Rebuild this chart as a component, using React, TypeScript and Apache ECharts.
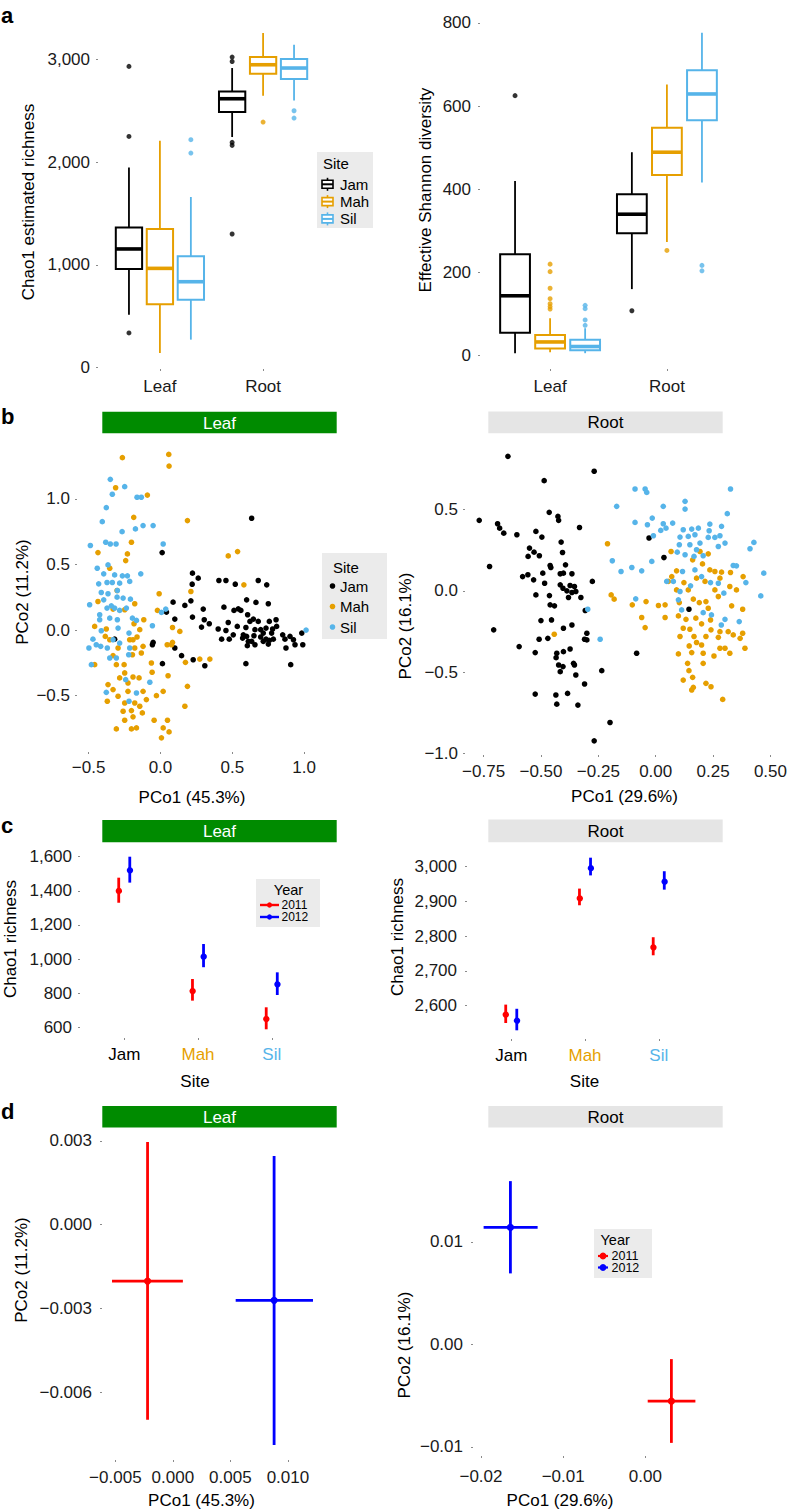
import React, { useEffect, useRef } from 'react';
import * as echarts from 'echarts';

const FONT = '"Liberation Sans", Arial, Helvetica, sans-serif';

// ---------- Panel a : box plots ----------
const SITES = ['Jam', 'Mah', 'Sil'];
const TISSUES = ['Leaf', 'Root'];
// [min, q1, median, q3, max] for Leaf, Root
const chaoJam = [[516, 961, 1156, 1366, 1950], [2246, 2490, 2619, 2690, 2918]];
const chaoMah = [[143, 617, 967, 1350, 2210], [2648, 2863, 2950, 3025, 3259]];
const chaoSil = [[273, 662, 837, 1084, 1662], [2603, 2811, 2918, 3006, 3145]];
const chaoOutJam = [[2934, 2252, 338], [3025, 2982, 2194, 2165, 1302]];
const chaoOutMah = [[], [2392]];
const chaoOutSil = [[2220, 2090], [2502, 2431]];
const chaoTicks = [0, 1000, 2000, 3000];

const shanJam = [[6, 55, 144, 244, 420], [160, 294, 340, 388, 489]];
const shanMah = [[8, 17, 33, 50, 90], [273, 434, 489, 548, 652]];
const shanSil = [[6, 13, 22, 38, 66], [416, 566, 629, 686, 776]];
const shanOutJam = [[625], [108]];
const shanOutMah = [[220, 202, 162, 137, 125, 118, 112], [253]];
const shanOutSil = [[121, 113, 86, 73], [217, 204]];
const shanTicks = [0, 200, 400, 600, 800];

// ---------- Panel b : PCoA scatter ----------
const leafJam = [[0.635,0.853],[0.012,0.591],[0.223,0.434],[0.263,0.396],[0.221,0.350],[0.407,0.378],[0.456,0.378],[0.521,0.350],[0.681,0.378],[0.740,0.345],[0.088,0.213],[0.170,0.188],[0.212,0.223],[0.298,0.160],[0.442,0.175],[0.512,0.150],[0.542,0.162],[0.560,0.150],[0.600,0.231],[0.665,0.211],[0.751,0.201],[0.042,0.137],[0.100,0.084],[0.223,0.099],[0.286,0.023],[0.340,0.048],[0.402,0.008],[0.456,-0.003],[0.479,-0.069],[0.426,-0.069],[0.535,0.028],[0.595,0.020],[0.607,0.117],[0.623,0.066],[0.647,0.084],[0.658,0.003],[0.681,0.066],[0.698,0.003],[0.716,-0.023],[0.735,0.015],[0.758,0.066],[0.781,0.008],[0.805,0.079],[0.809,0.028],[0.774,-0.023],[0.786,-0.069],[0.735,-0.069],[0.751,-0.107],[0.716,-0.086],[0.651,-0.043],[0.600,-0.048],[0.577,-0.036],[0.612,-0.086],[0.658,-0.112],[0.605,-0.119],[0.758,-0.079],[0.851,-0.036],[0.867,-0.069],[0.902,-0.048],[0.926,-0.074],[0.937,-0.112],[0.984,-0.023],[0.874,-0.137],[0.991,-0.112],[0.907,-0.264],[0.595,-0.256],[0.309,-0.272],[0.228,-0.226],[0.147,-0.195],[0.100,-0.137],[0.014,-0.256],[-0.051,-0.094],[-0.056,-0.112],[-0.319,-0.069],[0.305,0.079],[0.472,0.058],[0.507,-0.036],[0.572,-0.061],[0.698,-0.053],[0.635,-0.086]];
const leafMah = [[-0.265,1.315],[0.058,1.340],[0.060,1.251],[-0.312,1.086],[-0.091,1.030],[-0.186,0.860],[0.188,0.835],[-0.202,0.670],[-0.435,0.591],[-0.230,0.581],[-0.242,0.530],[0.472,0.566],[0.537,0.599],[0.581,0.345],[0.212,0.294],[-0.009,0.277],[-0.302,0.302],[-0.353,0.472],[-0.435,0.218],[-0.330,0.160],[-0.179,0.201],[-0.021,0.150],[-0.116,0.079],[-0.184,0.048],[-0.458,0.028],[-0.377,0.008],[0.084,0.020],[0.135,-0.010],[0.084,-0.094],[0.077,-0.112],[0.047,-0.112],[0.174,-0.246],[0.274,-0.221],[0.344,-0.221],[-0.384,-0.048],[-0.295,-0.137],[-0.214,-0.074],[-0.163,-0.053],[-0.121,-0.124],[-0.195,-0.188],[-0.330,-0.195],[-0.458,-0.264],[-0.307,-0.264],[-0.249,-0.327],[-0.191,-0.358],[-0.149,-0.365],[-0.226,-0.404],[-0.365,-0.416],[-0.330,-0.454],[-0.295,-0.505],[-0.370,-0.543],[-0.249,-0.556],[-0.179,-0.556],[-0.144,-0.581],[-0.126,-0.632],[-0.202,-0.614],[-0.260,-0.619],[-0.191,-0.662],[-0.249,-0.688],[-0.167,-0.746],[-0.202,-0.754],[-0.307,-0.754],[-0.044,-0.688],[0.049,-0.688],[0.019,-0.746],[0.060,-0.777],[0.007,-0.822],[-0.028,-0.500],[0.019,-0.467],[-0.058,-0.322],[0.053,-0.348],[0.188,-0.429],[0.170,-0.581],[-0.063,-0.251],[-0.284,-0.365],[-0.121,-0.467],[-0.098,-0.530],[-0.133,-0.175],[-0.179,-0.137],[-0.353,-0.074],[-0.253,-0.264],[-0.226,-0.467],[-0.191,-0.074],[-0.249,0.155],[-0.144,0.003]];
const leafSil = [[-0.349,1.150],[-0.249,1.094],[-0.335,1.036],[-0.163,1.013],[-0.133,1.013],[-0.377,0.934],[-0.405,0.827],[-0.267,0.751],[-0.174,0.772],[-0.121,0.797],[-0.051,0.797],[-0.488,0.645],[-0.381,0.670],[-0.349,0.657],[-0.309,0.657],[0.019,0.657],[-0.440,0.472],[-0.365,0.497],[-0.395,0.429],[-0.319,0.421],[-0.265,0.414],[-0.230,0.414],[-0.137,0.429],[-0.430,0.353],[-0.372,0.363],[-0.335,0.363],[-0.284,0.358],[-0.214,0.371],[-0.365,0.277],[-0.302,0.251],[-0.260,0.244],[-0.209,0.236],[-0.493,0.193],[-0.395,0.231],[-0.423,0.117],[-0.372,0.168],[-0.319,0.168],[-0.284,0.150],[-0.237,0.168],[-0.423,0.079],[-0.353,0.091],[-0.300,0.079],[-0.195,0.091],[-0.056,0.033],[0.007,0.135],[0.037,0.160],[-0.470,-0.069],[-0.498,-0.137],[-0.447,-0.112],[-0.330,-0.074],[-0.284,-0.099],[-0.219,-0.023],[-0.214,-0.137],[-0.481,-0.264],[-0.370,-0.137],[-0.353,-0.213],[-0.242,-0.378],[-0.377,-0.475],[-0.167,-0.480],[-0.219,-0.543],[-0.074,-0.398],[1.014,0.000],[-0.412,-0.005],[-0.295,0.015],[-0.167,0.074],[-0.307,-0.213],[-0.416,-0.124],[-0.221,-0.188],[-0.342,0.185],[-0.300,0.302],[-0.412,0.287]];

const rootJam = [[-0.644,0.828],[-0.268,0.736],[-0.486,0.678],[-0.769,0.434],[-0.689,0.413],[-0.680,0.386],[-0.662,0.355],[-0.605,0.345],[-0.464,0.483],[-0.426,0.458],[-0.423,0.434],[-0.332,0.390],[-0.522,0.366],[-0.496,0.331],[-0.412,0.300],[-0.550,0.263],[-0.530,0.238],[-0.507,0.216],[-0.556,0.212],[-0.406,0.236],[-0.460,0.156],[-0.457,0.144],[-0.393,0.160],[-0.724,0.150],[-0.580,0.088],[-0.557,0.099],[-0.532,0.068],[-0.484,0.047],[-0.416,0.105],[-0.402,0.109],[-0.416,0.037],[-0.404,0.016],[-0.387,0.000],[-0.373,0.033],[-0.354,0.027],[-0.365,-0.010],[-0.380,-0.041],[-0.348,-0.004],[-0.522,-0.025],[-0.463,-0.029],[-0.326,-0.041],[-0.276,0.058],[-0.460,-0.086],[-0.441,-0.092],[-0.307,-0.121],[-0.500,-0.183],[-0.454,-0.179],[-0.365,-0.210],[-0.402,-0.230],[-0.300,-0.261],[-0.310,-0.298],[-0.300,-0.302],[-0.508,-0.298],[-0.470,-0.292],[-0.706,-0.240],[-0.595,-0.343],[-0.525,-0.380],[-0.431,-0.384],[-0.402,-0.374],[-0.373,-0.358],[-0.434,-0.411],[-0.423,-0.456],[-0.404,-0.466],[-0.416,-0.497],[-0.358,-0.446],[-0.354,-0.456],[-0.348,-0.518],[-0.310,-0.573],[-0.525,-0.635],[-0.435,-0.641],[-0.384,-0.631],[-0.431,-0.697],[-0.339,-0.703],[-0.235,-0.491],[-0.083,-0.384],[-0.199,-0.810],[-0.268,-0.923],[-0.029,0.325],[0.036,0.205],[0.145,-0.113],[-0.492,0.109],[-0.365,0.105]];
const rootMah = [[-0.210,0.290],[0.067,0.242],[0.193,0.242],[0.229,0.228],[0.161,0.191],[0.204,0.166],[0.236,0.129],[0.258,0.119],[0.287,0.115],[0.091,0.123],[0.070,0.088],[0.055,0.058],[0.123,0.051],[0.178,0.078],[0.215,0.058],[0.326,0.113],[0.381,0.088],[0.323,0.027],[0.091,0.006],[0.142,0.006],[0.258,0.006],[-0.194,-0.025],[-0.181,-0.051],[-0.042,-0.066],[-0.102,-0.086],[0.012,-0.090],[0.041,-0.086],[0.103,-0.072],[0.164,-0.051],[0.190,-0.072],[0.219,-0.066],[0.273,-0.035],[0.331,-0.092],[0.379,-0.113],[-0.061,-0.164],[0.041,-0.164],[0.099,-0.154],[0.132,-0.175],[0.175,-0.168],[0.239,-0.179],[-0.046,-0.226],[0.120,-0.230],[0.149,-0.236],[0.200,-0.203],[0.241,-0.240],[0.280,-0.251],[0.316,-0.251],[0.338,-0.271],[0.379,-0.261],[0.368,-0.292],[0.106,-0.281],[0.167,-0.281],[0.219,-0.281],[0.273,-0.286],[-0.442,-0.267],[0.178,-0.318],[0.146,-0.339],[0.200,-0.333],[0.099,-0.388],[0.157,-0.380],[0.207,-0.384],[0.254,-0.401],[0.302,-0.353],[0.323,-0.384],[0.389,-0.353],[0.280,-0.353],[0.139,-0.446],[0.207,-0.446],[0.145,-0.491],[0.120,-0.549],[0.161,-0.532],[0.164,-0.594],[0.157,-0.610],[0.219,-0.569],[0.241,-0.590],[0.292,-0.668],[0.352,0.006],[0.280,0.078],[0.229,-0.107]];
const rootSil = [[-0.090,0.627],[-0.046,0.627],[-0.039,0.606],[0.326,0.627],[-0.170,0.520],[0.033,0.520],[0.128,0.551],[0.128,0.503],[0.312,0.475],[-0.090,0.421],[-0.036,0.407],[-0.015,0.448],[0.033,0.413],[0.074,0.417],[0.045,0.386],[0.022,0.372],[-0.010,0.339],[0.120,0.376],[0.157,0.380],[0.186,0.386],[0.236,0.411],[0.287,0.397],[0.233,0.370],[0.106,0.331],[0.142,0.335],[0.171,0.345],[0.229,0.329],[0.258,0.329],[0.280,0.339],[0.103,0.284],[0.149,0.284],[0.193,0.294],[0.302,0.294],[0.273,0.273],[0.428,0.298],[0.411,0.259],[0.128,0.222],[0.167,0.212],[0.207,0.216],[-0.189,0.185],[-0.104,0.144],[-0.061,0.123],[-0.017,0.181],[-0.151,0.119],[0.117,0.119],[0.171,0.129],[0.338,0.156],[0.352,0.154],[0.048,0.058],[0.077,0.058],[0.200,0.088],[0.239,0.051],[0.273,0.047],[0.393,0.051],[0.471,0.109],[0.458,-0.031],[0.099,-0.055],[-0.087,-0.049],[0.113,-0.117],[0.207,-0.134],[0.243,-0.148],[0.302,-0.175],[0.364,-0.189],[0.286,-0.210],[-0.296,-0.113],[-0.242,-0.298],[0.106,-0.004],[0.152,0.031],[0.297,-0.014],[0.178,0.253],[0.094,0.238]];

const pcoLeafXTicks = [-0.5, 0, 0.5, 1.0];
const pcoLeafYTicks = [-0.5, 0, 0.5, 1.0];
const pcoRootXTicks = [-0.75, -0.5, -0.25, 0, 0.25, 0.5];
const pcoRootYTicks = [-1.0, -0.5, 0, 0.5];

// ---------- Panel c : Chao1 by year, [mean, lower, upper] per site ----------
const YEARS = ['2011', '2012'];
const richLeaf2011 = [[1405, 1330, 1477], [818, 756, 883], [653, 588, 717]];
const richLeaf2012 = [[1526, 1448, 1600], [1020, 952, 1088], [858, 789, 922]];
const richRoot2011 = [[2576, 2550, 2603], [2913, 2889, 2937], [2771, 2745, 2797]];
const richRoot2012 = [[2560, 2529, 2591], [3000, 2975, 3026], [2961, 2934, 2987]];
const richLeafTicks = [600, 800, 1000, 1200, 1400, 1600];
const richRootTicks = [2600, 2700, 2800, 2900, 3000];

// ---------- Panel d : PCoA centroids [x, y, xLo, xHi, yLo, yHi] ----------
const centLeaf2011 = [-0.0022, -0.00202, -0.00529, 0.00087, -0.00699, 0.00296];
const centLeaf2012 = [0.0088, -0.00271, 0.00546, 0.01218, -0.00789, 0.00246];
const centRoot2011 = [0.00316, -0.00553, 0.00028, 0.00608, -0.0096, -0.00143];
const centRoot2012 = [-0.01642, 0.01141, -0.01968, -0.01311, 0.00693, 0.01593];
const centLeafXTicks = [-0.005, 0, 0.005, 0.01];
const centLeafYTicks = [-0.006, -0.003, 0, 0.003];
const centRootXTicks = [-0.02, -0.01, 0];
const centRootYTicks = [-0.01, 0, 0.01];

// ---------- styles ----------
const SITE_COLORS = ['#000000', '#E69F00', '#56B4E9'];
const YEAR_COLORS = ['#FF0000', '#0000FF'];
const BOX_DODGE = [-0.3, 0, 0.3];
const BOX_W = 0.255;
const YEAR_DODGE = [-0.075, 0.075];

const minus = (s: string) => s.replace('-', '\u2212');
const fmtComma = (v: number) => Math.round(v).toLocaleString('en-US');
const fmtFix = (d: number) => (v: number) => minus((Math.abs(v) < 1e-12 ? 0 : v).toFixed(d));

function valueAxis(gridIndex: number, min: number, max: number, ticks: number[], formatter: any, margin: number, labelColor?: any) {
  return {
    type: 'value', gridIndex, min, max, scale: false,
    axisLine: { show: false, onZero: false },
    splitLine: { show: false },
    axisTick: { show: true, length: 2, lineStyle: { color: '#8a8a8a', width: 1 }, customValues: ticks },
    axisLabel: {
      show: true, customValues: ticks, formatter, margin,
      fontSize: 17, fontFamily: FONT, color: labelColor || '#1a1a1a',
    },
  };
}

const boxRender = (color: string) => (params: any, api: any) => {
  const x = api.value(0);
  const pMin = api.coord([x, api.value(1)]);
  const pQ1 = api.coord([x, api.value(2)]);
  const pMed = api.coord([x, api.value(3)]);
  const pQ3 = api.coord([x, api.value(4)]);
  const pMax = api.coord([x, api.value(5)]);
  const hw = api.size([BOX_W, 0])[0] / 2;
  return {
    type: 'group',
    children: [
      { type: 'line', shape: { x1: pMin[0], y1: pMin[1], x2: pQ1[0], y2: pQ1[1] }, style: { stroke: color, lineWidth: 1.8 } },
      { type: 'line', shape: { x1: pQ3[0], y1: pQ3[1], x2: pMax[0], y2: pMax[1] }, style: { stroke: color, lineWidth: 1.8 } },
      { type: 'rect', shape: { x: pQ1[0] - hw, y: pQ3[1], width: 2 * hw, height: pQ1[1] - pQ3[1] }, style: { fill: '#ffffff', stroke: color, lineWidth: 2 } },
      { type: 'line', shape: { x1: pMed[0] - hw, y1: pMed[1], x2: pMed[0] + hw, y2: pMed[1] }, style: { stroke: color, lineWidth: 3.6 } },
    ],
  };
};

function boxPanel(grid: number, stats: number[][][], outs: number[][][]) {
  const series: any[] = [];
  SITES.forEach((site, s) => {
    const off = BOX_DODGE[s];
    const pts: number[][] = [];
    outs[s].forEach((vals, t) => vals.forEach((v) => pts.push([t + 1 + off, v])));
    series.push({
      type: 'scatter', name: site + ' outliers', xAxisIndex: grid, yAxisIndex: grid, silent: true,
      data: pts, symbol: 'circle', symbolSize: 5, itemStyle: { color: SITE_COLORS[s] },
    });
    series.push({
      type: 'custom', name: site, xAxisIndex: grid, yAxisIndex: grid, silent: true,
      data: stats[s].map((st, t) => [t + 1 + off, ...st]),
      renderItem: boxRender(SITE_COLORS[s]),
    });
  });
  return series;
}

function scatterPanel(grid: number, groups: number[][][]) {
  return groups.map((pts, s) => ({
    type: 'scatter', name: SITES[s], xAxisIndex: grid, yAxisIndex: grid, silent: true,
    data: pts, symbol: 'circle', symbolSize: 5.6, itemStyle: { color: SITE_COLORS[s], opacity: 1 },
  }));
}

const errRender = (color: string) => (params: any, api: any) => {
  const x = api.value(0);
  const pm = api.coord([x, api.value(1)]);
  const pl = api.coord([x, api.value(2)]);
  const ph = api.coord([x, api.value(3)]);
  return {
    type: 'group',
    children: [
      { type: 'line', shape: { x1: pl[0], y1: pl[1], x2: ph[0], y2: ph[1] }, style: { stroke: color, lineWidth: 2.8 } },
      { type: 'circle', shape: { cx: pm[0], cy: pm[1], r: 3.2 }, style: { fill: color } },
    ],
  };
};

function errPanel(grid: number, years: number[][][]) {
  return years.map((rows, y) => ({
    type: 'custom', name: YEARS[y], xAxisIndex: grid, yAxisIndex: grid, silent: true,
    data: rows.map((r, s) => [s + 1 + YEAR_DODGE[y], ...r]),
    renderItem: errRender(YEAR_COLORS[y]),
  }));
}

const crossRender = (color: string) => (params: any, api: any) => {
  const x = api.value(0), y = api.value(1);
  const c = api.coord([x, y]);
  const xl = api.coord([api.value(2), y]);
  const xh = api.coord([api.value(3), y]);
  const yl = api.coord([x, api.value(4)]);
  const yh = api.coord([x, api.value(5)]);
  return {
    type: 'group',
    children: [
      { type: 'line', shape: { x1: xl[0], y1: xl[1], x2: xh[0], y2: xh[1] }, style: { stroke: color, lineWidth: 2.8 } },
      { type: 'line', shape: { x1: yl[0], y1: yl[1], x2: yh[0], y2: yh[1] }, style: { stroke: color, lineWidth: 2.8 } },
      { type: 'circle', shape: { cx: c[0], cy: c[1], r: 3.6 }, style: { fill: color } },
    ],
  };
};

function crossPanel(grid: number, cents: number[][]) {
  return cents.map((c, y) => ({
    type: 'custom', name: YEARS[y], xAxisIndex: grid, yAxisIndex: grid, silent: true,
    data: [c], renderItem: crossRender(YEAR_COLORS[y]),
  }));
}

// ---------- graphic helpers ----------
function txt(text: string, x: number, y: number, o: any = {}) {
  const align = o.align || 'center';
  return {
    type: 'text', x, y, rotation: o.rot || 0, silent: true,
    style: {
      text, fontSize: o.size || 17, fontFamily: FONT, fontWeight: o.weight || 'normal',
      fill: o.color || '#000000', align, verticalAlign: 'middle', textAlign: align, textVerticalAlign: 'middle',
    },
  };
}
function rect(x: number, y: number, w: number, h: number, fill: string) {
  return { type: 'rect', silent: true, shape: { x, y, width: w, height: h }, style: { fill } };
}
function strip(label: string, x: number, y: number, w: number, h: number, green: boolean) {
  return [rect(x, y, w, h, green ? '#008B00' : '#E5E5E5'), txt(label, x + w / 2, y + h / 2 + 0.5, { color: green ? '#ffffff' : '#000000' })];
}
const ROT = Math.PI / 2;

export default function App() {
  const ref = useRef<HTMLDivElement>(null);
  useEffect(() => {
    if (!ref.current) return;
    const chart = echarts.init(ref.current, undefined, { renderer: 'svg' });

    const grids = [
      { left: 98, top: 17, width: 227, height: 352 },
      { left: 480, top: 17, width: 257, height: 352 },
      { left: 77, top: 440, width: 240, height: 312 },
      { left: 465, top: 442, width: 313, height: 313 },
      { left: 80, top: 848, width: 236, height: 190 },
      { left: 467, top: 849, width: 236, height: 190 },
      { left: 102, top: 1127, width: 221, height: 333 },
      { left: 473, top: 1168, width: 233, height: 288 },
    ].map((g) => ({ ...g, containLabel: false, outerBoundsMode: 'none' }));

    const tissueFmt = (v: number) => TISSUES[Math.round(v) - 1] || '';
    const siteFmt = (v: number) => SITES[Math.round(v) - 1] || '';
    const siteColor = (v: any) => SITE_COLORS[Math.round(Number(v)) - 1] || '#000';

    const xAxis = [
      valueAxis(0, 0.4, 2.6, [1, 2], tissueFmt, 9),
      valueAxis(1, 0.4, 2.6, [1, 2], tissueFmt, 9),
      valueAxis(2, -0.581, 1.09, pcoLeafXTicks, fmtFix(1), 7),
      valueAxis(3, -0.831, 0.533, pcoRootXTicks, fmtFix(2), 8),
      valueAxis(4, 0.4, 3.6, [1, 2, 3], siteFmt, 8, siteColor),
      valueAxis(5, 0.4, 3.6, [1, 2, 3], siteFmt, 8, siteColor),
      valueAxis(6, -0.00616, 0.01305, centLeafXTicks, fmtFix(3), 9),
      valueAxis(7, -0.02097, 0.00737, centRootXTicks, fmtFix(2), 12),
    ];
    const yAxis = [
      valueAxis(0, -13, 3415, chaoTicks, fmtComma, 8),
      valueAxis(1, -32, 814, shanTicks, fmtComma, 9),
      valueAxis(2, -0.93, 1.45, pcoLeafYTicks, fmtFix(1), 7),
      valueAxis(3, -1.01, 0.916, pcoRootYTicks, fmtFix(1), 7),
      valueAxis(4, 537, 1651, richLeafTicks, fmtComma, 8),
      valueAxis(5, 2504, 3051, richRootTicks, fmtComma, 10),
      valueAxis(6, -0.00843, 0.0035, centLeafYTicks, fmtFix(3), 10),
      valueAxis(7, -0.01088, 0.01721, centRootYTicks, fmtFix(2), 10),
    ];

    const series = [
      ...boxPanel(0, [chaoJam, chaoMah, chaoSil], [chaoOutJam, chaoOutMah, chaoOutSil]),
      ...boxPanel(1, [shanJam, shanMah, shanSil], [shanOutJam, shanOutMah, shanOutSil]),
      ...scatterPanel(2, [leafJam, leafMah, leafSil]),
      ...scatterPanel(3, [rootJam, rootMah, rootSil]),
      ...errPanel(4, [richLeaf2011, richLeaf2012]),
      ...errPanel(5, [richRoot2011, richRoot2012]),
      ...crossPanel(6, [centLeaf2011, centLeaf2012]),
      ...crossPanel(7, [centRoot2011, centRoot2012]),
    ];

    const boxKey = (cx: number, cy: number, color: string) => [
      { type: 'line', silent: true, shape: { x1: cx, y1: cy - 6.5, x2: cx, y2: cy - 4 }, style: { stroke: color, lineWidth: 1.6 } },
      { type: 'line', silent: true, shape: { x1: cx, y1: cy + 4, x2: cx, y2: cy + 6.5 }, style: { stroke: color, lineWidth: 1.6 } },
      { type: 'rect', silent: true, shape: { x: cx - 5.5, y: cy - 4, width: 11, height: 8 }, style: { fill: '#ffffff', stroke: color, lineWidth: 1.6 } },
      { type: 'line', silent: true, shape: { x1: cx - 5.5, y1: cy, x2: cx + 5.5, y2: cy }, style: { stroke: color, lineWidth: 2 } },
    ];

    const legendA: any[] = [rect(317, 152, 56, 76, '#EBEBEB'), txt('Site', 323, 163.5, { align: 'left', size: 15 })];
    [184.3, 201.6, 218.9].forEach((cy, i) => {
      legendA.push(...boxKey(327.5, cy, SITE_COLORS[i]));
      legendA.push(txt(SITES[i], 340, cy, { align: 'left', size: 15 }));
    });
    const legendB: any[] = [rect(322, 553, 65, 86, '#EBEBEB'), txt('Site', 333, 567, { align: 'left', size: 15 })];
    [586, 606.5, 627].forEach((cy, i) => {
      legendB.push({ type: 'circle', silent: true, shape: { cx: 332.5, cy, r: 2.8 }, style: { fill: SITE_COLORS[i] } });
      legendB.push(txt(SITES[i], 340, cy, { align: 'left', size: 15 }));
    });
    const legendC: any[] = [rect(256, 879, 64, 48, '#EBEBEB'), txt('Year', 288.5, 889.5, { size: 14.5 })];
    [905, 917].forEach((cy, i) => {
      legendC.push({ type: 'line', silent: true, shape: { x1: 260, y1: cy, x2: 279, y2: cy }, style: { stroke: YEAR_COLORS[i], lineWidth: 2.4 } });
      legendC.push({ type: 'circle', silent: true, shape: { cx: 269.5, cy, r: 2.6 }, style: { fill: YEAR_COLORS[i] } });
      legendC.push(txt(YEARS[i], 281.5, cy, { align: 'left', size: 12 }));
    });
    const legendD: any[] = [rect(594, 1229, 58, 49, '#EBEBEB'), txt('Year', 600.5, 1240, { align: 'left', size: 14.5 })];
    [1256, 1267.5].forEach((cy, i) => {
      legendD.push({ type: 'line', silent: true, shape: { x1: 598, y1: cy, x2: 608, y2: cy }, style: { stroke: YEAR_COLORS[i], lineWidth: 2.2 } });
      legendD.push({ type: 'circle', silent: true, shape: { cx: 603, cy, r: 3.4 }, style: { fill: YEAR_COLORS[i] } });
      legendD.push(txt(YEARS[i], 611.5, cy, { align: 'left', size: 12.5 }));
    });

    const graphic = [
      txt('a', 1, 15, { align: 'left', size: 22, weight: 'bold' }),
      txt('b', 1, 416, { align: 'left', size: 22, weight: 'bold' }),
      txt('c', 1, 825, { align: 'left', size: 22, weight: 'bold' }),
      txt('d', 1, 1111, { align: 'left', size: 22, weight: 'bold' }),
      ...strip('Leaf', 102.3, 411.7, 234.4, 21.6, true),
      ...strip('Root', 488.3, 411.5, 234.4, 21.8, false),
      ...strip('Leaf', 102.3, 820, 234.4, 22.3, true),
      ...strip('Root', 488.3, 819.5, 234.4, 22.8, false),
      ...strip('Leaf', 102.3, 1106, 234.4, 21.5, true),
      ...strip('Root', 488.3, 1106, 234.4, 21.5, false),
      txt('Chao1 estimated richness', 28, 202, { rot: ROT }),
      txt('Effective Shannon diversity', 425, 190, { rot: ROT }),
      txt('PCo2 (11.2%)', 22, 592, { rot: ROT }),
      txt('PCo1 (45.3%)', 192, 797),
      txt('PCo2 (16.1%)', 405, 626, { rot: ROT }),
      txt('PCo1 (29.6%)', 624.5, 796.5),
      txt('Chao1 richness', 10, 939, { rot: ROT }),
      txt('Site', 195, 1081),
      txt('Chao1 richness', 397, 937, { rot: ROT }),
      txt('Site', 584.5, 1081),
      txt('PCo2 (11.2%)', 21, 1270, { rot: ROT }),
      txt('PCo1 (45.3%)', 201.5, 1500),
      txt('PCo2 (16.1%)', 404, 1345, { rot: ROT }),
      txt('PCo1 (29.6%)', 560, 1500),
      ...legendA, ...legendB, ...legendC, ...legendD,
    ];

    chart.setOption({
      animation: false,
      backgroundColor: '#ffffff',
      textStyle: { fontFamily: FONT },
      grid: grids,
      xAxis,
      yAxis,
      series,
      graphic,
    });
    return () => chart.dispose();
  }, []);
  return <div ref={ref} style={{ position: 'absolute', left: 0, top: 0, width: 788, height: 1511 }} />;
}
